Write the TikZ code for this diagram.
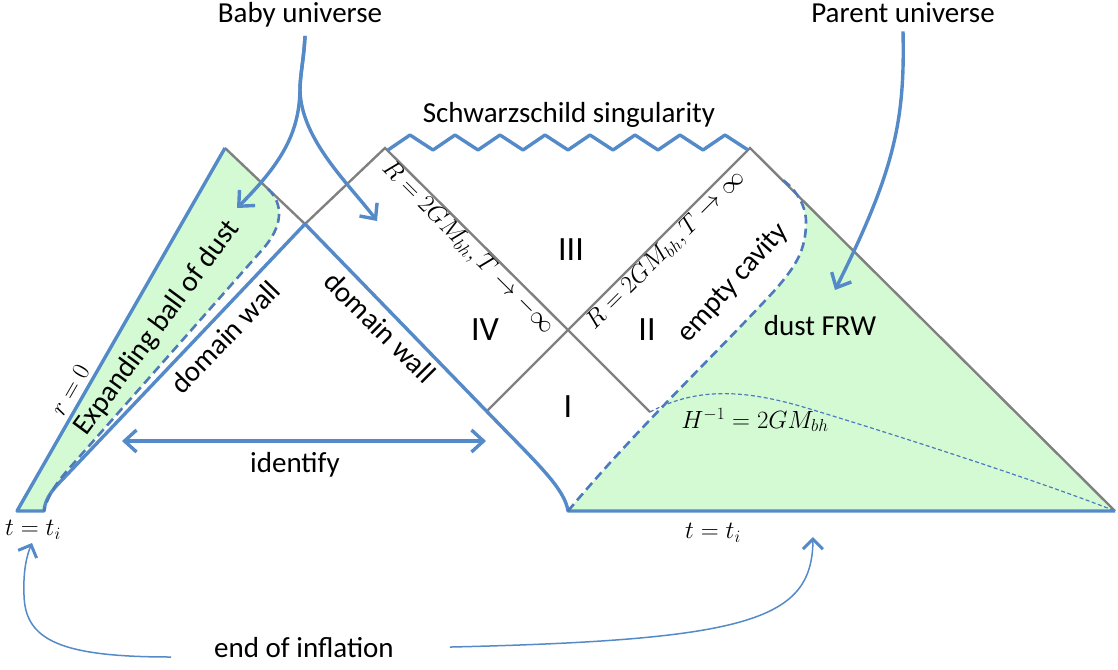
\documentclass[tikz,border=0pt]{standalone}
\usepackage{fontspec}
\setmainfont{Carlito}
\usetikzlibrary{arrows.meta}
\definecolor{wallblue}{RGB}{84,138,200}
\definecolor{cavblue}{RGB}{78,122,188}
\definecolor{dustgreen}{RGB}{212,250,212}
\definecolor{horgray}{RGB}{128,128,128}

\begin{document}
\begin{tikzpicture}[
    x=1pt, y=-1pt,
    every node/.style={inner sep=0pt},
    lbl/.style={font=\fontsize{29}{32}\selectfont},
    roman/.style={font=\fontsize{34}{38}\selectfont},
    mlbl/.style={font=\fontsize{#1}{#1}\selectfont},
    wall/.style={draw=wallblue, line width=3.4pt, line join=round},
    hor/.style={draw=horgray, line width=2.4pt},
    cav/.style={draw=cavblue, line width=2.6pt, dash pattern=on 9pt off 5pt},
    hubble/.style={draw=cavblue, line width=1.2pt, dash pattern=on 4pt off 2.5pt},
    arr/.style={draw=wallblue, line width=3.4pt, -{Straight Barb[length=12pt, width=22pt, line width=3.4pt]}},
    dblarr/.style={draw=wallblue, line width=3.4pt, {Straight Barb[length=12pt, width=22pt, line width=3.4pt]}-{Straight Barb[length=12pt, width=22pt, line width=3.4pt]}},
    thinarr/.style={draw=wallblue, line width=1.5pt, -{Straight Barb[length=10pt, width=20pt, line width=3pt]}},
]
    \useasboundingbox (0,0) rectangle (1118,669);

    % Corners of the diagram
    \coordinate (apexL) at (225,148);
    \coordinate (botL) at (17,511);
    \coordinate (botLr) at (44,511);
    \coordinate (X1) at (305,224);
    \coordinate (TL) at (385,148);
    \coordinate (TR) at (750,148);
    \coordinate (C) at (568,330);
    \coordinate (B1) at (487,411);
    \coordinate (B2) at (650,412);
    \coordinate (DW) at (568,511);
    \coordinate (BR) at (1115,511);
    \coordinate (cavL) at (268,189);
    \coordinate (cavR) at (780,178);

    % Dust regions
    \fill[dustgreen] (apexL) -- (cavL) .. controls (285,205) and (282,228) .. (262,250) -- (66,472) .. controls (56,484) and (48,495) .. (botLr) -- (botL) -- cycle;
    \fill[dustgreen] (DW) .. controls (640,425) and (720,350) .. (775,290) .. controls (797,265) and (805,250) .. (806,225) .. controls (807,205) and (795,188) .. (cavR) -- (BR) -- cycle;

    % Horizons
    \draw[hor] (apexL) -- (X1) -- (TL) -- (C) -- (B2);
    \draw[hor] (B1) -- (C) -- (TR) -- (BR);
    \draw[hubble] (B2) .. controls (700,385) and (750,392) .. (800,406) .. controls (900,436) and (1050,485) .. (BR);

    % Walls and singularity
    \draw[wall] (apexL) -- (botL) -- (botLr) .. controls (45,499) and (52,490) .. (62,480) -- (X1) -- (500,425) .. controls (540,466) and (565,490) .. (DW) -- (BR);
    \draw[cav] (cavL) .. controls (285,205) and (282,228) .. (262,250) -- (66,472) .. controls (56,484) and (48,495) .. (botLr);
    \draw[cav] (DW) .. controls (640,425) and (720,350) .. (775,290) .. controls (797,265) and (805,250) .. (806,225) .. controls (807,205) and (795,188) .. (cavR);
    \draw[wall] (388,150) \foreach \k in {0,...,7}{ -- ({410+45*\k},135) -- ({433+45*\k},150)};

    % Labels
    \node[lbl, anchor=base] (baby) at (300,23) {Baby universe};
    \node[lbl, anchor=base] (parent) at (903,23) {Parent universe};
    \node[lbl, anchor=base] (sing) at (569,122) {Schwarzschild singularity};
    \node[mlbl=27, rotate=60] (rzero) at (70,390) {$r=0$};
    \node[lbl, rotate=53.6] (ball) at (157,328) {Expanding ball of dust};
    \node[lbl, rotate=46] (wallL) at (225,337) {domain wall};
    \node[lbl, rotate=-45] (wallR) at (380,327) {domain wall};
    \node[mlbl=24, rotate=-45] (hzL) at (468,248) {$R=2GM_{bh}, T\to-\infty$};
    \node[mlbl=24, rotate=45] (hzR) at (666,250) {$R=2GM_{bh}, T\to\infty$};
    \node[lbl, rotate=48] (cavity) at (733,283) {empty cavity};
    \node[lbl, anchor=base] (frw) at (820,335) {dust FRW};
    \node[mlbl=26] (hub) at (755,420) {$H^{-1}=2GM_{bh}$};
    \node[roman, anchor=base] (rIII) at (571,260) {III};
    \node[roman, anchor=base] (rIV) at (485,340) {IV};
    \node[roman, anchor=base] (rII) at (647,340) {II};
    \node[roman, anchor=base] (rI) at (568,417) {I};
    \node[mlbl=24] (tleft) at (33,530) {$t=t_i$};
    \node[mlbl=24] (tright) at (713,533) {$t=t_i$};
    \node[lbl, anchor=base] (identify) at (295,472) {identify};
    \node[lbl, anchor=base] (endinf) at (304,657) {end of inflation};

    % Pointers
    \coordinate (babyL) at (237,208);
    \coordinate (babyR) at (377,221);
    \coordinate (parenttip) at (835,290);
    \coordinate (idL) at (122,441);
    \coordinate (idR) at (486,441);
    \coordinate (tiL) at (32,543);
    \coordinate (tiR) at (813,537);
    \draw[arr] (baby.south) ++(5,8) .. controls (304,58) and (300,75) .. (300,90) .. controls (299,130) and (285,160) .. (babyL);
    \draw[arr] (baby.south) ++(5,8) .. controls (304,58) and (300,75) .. (300,90) .. controls (301,140) and (350,185) .. (babyR);
    \draw[arr] (parent.south) ++(0,8) .. controls (905,120) and (895,170) .. (parenttip);
    \draw[dblarr] (idL) -- (idR);
    \draw[thinarr] (endinf.base west) ++(-43,0) .. controls (60,657) and (25,640) .. (24,595) .. controls (23,570) and (27,555) .. (tiL);
    \draw[thinarr] (endinf.east) ++(56,0) .. controls (750,640) and (812,620) .. (tiR);
\end{tikzpicture}
\end{document}
